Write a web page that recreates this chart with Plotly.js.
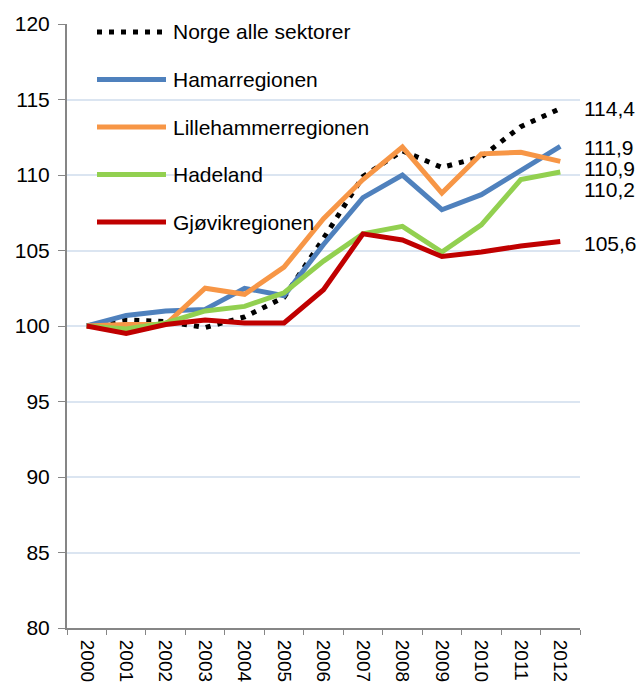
<!DOCTYPE html>
<html>
<head>
<meta charset="utf-8">
<script src="https://cdn.plot.ly/plotly-3.0.1.min.js"></script>
<style>html,body{margin:0;padding:0;background:#fff;}#chart{width:640px;height:686px;}</style>
</head>
<body>
<div id="chart"></div>
<script>
const years = ["2000","2001","2002","2003","2004","2005","2006","2007","2008","2009","2010","2011","2012"];
const seriesNames = ["Norge alle sektorer","Hamarregionen","Lillehammerregionen","Hadeland","Gjøvikregionen"];
const norge     = [100, 100.4, 100.3, 99.9, 100.6, 101.9, 105.8, 109.9, 111.6, 110.5, 111.2, 113.2, 114.4];
const hamar     = [100, 100.7, 101.0, 101.1, 102.5, 102.0, 105.4, 108.5, 110.0, 107.7, 108.7, 110.3, 111.9];
const lilleham  = [100, 100.1, 100.1, 102.5, 102.1, 103.9, 107.1, 109.7, 111.85, 108.8, 111.4, 111.5, 110.9];
const hadeland  = [100, 99.8, 100.2, 101.0, 101.3, 102.2, 104.3, 106.1, 106.6, 104.9, 106.7, 109.7, 110.2];
const gjovik    = [100, 99.5, 100.1, 100.4, 100.2, 100.2, 102.4, 106.1, 105.7, 104.6, 104.9, 105.3, 105.6];
const endLabels = ["114,4","111,9","110,9","110,2","105,6"];
const yTicks = [80,85,90,95,100,105,110,115,120];

const colors = ["#000000","#4f81bd","#f79646","#92d050","#c00000"];
const allSeries = [norge, hamar, lilleham, hadeland, gjovik];
const labelShift = [0, -1, -7, -18, -2];
const FONT = "Liberation Sans, Arial, sans-serif";
const DOT = "5px,7px";

const traces = allSeries.map((vals, i) => ({
  type: "scatter", mode: "lines", x: years, y: vals, name: seriesNames[i],
  line: {color: colors[i], width: 5, dash: i === 0 ? DOT : "solid"},
  hoverinfo: "x+y+name"
}));

const L = 67, R = 580, T = 24, B = 628;
const pw = R - L, ph = B - T;
const shapes = [], annotations = [];
seriesNames.forEach((n, i) => {
  const ypx = 32 + i * 47.5;
  const yp = 1 - (ypx - T) / ph;
  shapes.push({type: "line", xref: "paper", yref: "paper",
    x0: (97 - L) / pw, x1: (166 - L) / pw, y0: yp, y1: yp,
    line: {color: colors[i], width: 5, dash: i === 0 ? DOT : "solid"}});
  annotations.push({xref: "paper", yref: "paper", x: (171 - L) / pw, y: yp,
    xanchor: "left", yanchor: "middle", showarrow: false, text: n,
    font: {family: FONT, size: 21, color: "#000"}});
});
allSeries.forEach((vals, i) => {
  annotations.push({xref: "paper", yref: "y", x: 1, y: vals[vals.length - 1],
    xanchor: "left", yanchor: "middle", xshift: 2, yshift: labelShift[i], showarrow: false,
    text: endLabels[i], font: {family: FONT, size: 21, color: "#000"}});
});

const layout = {
  width: 640, height: 686,
  margin: {l: L, r: 640 - R, t: T, b: 686 - B, pad: 0},
  paper_bgcolor: "#fff", plot_bgcolor: "#fff",
  showlegend: false,
  font: {family: FONT, size: 21, color: "#000"},
  xaxis: {type: "category", tickson: "boundaries", ticks: "outside", ticklen: 5, tickcolor: "#868686",
    showline: true, linecolor: "#868686", linewidth: 2, showgrid: false, tickangle: 90,
    tickfont: {size: 19, color: "#000"}, range: [-0.5, 12.5], zeroline: false, ticklabelstandoff: 6},
  yaxis: {range: [80, 120], tickvals: yTicks, ticktext: yTicks.map(String), ticks: "outside", ticklen: 7,
    tickcolor: "#868686", showline: true, linecolor: "#868686", linewidth: 2,
    gridcolor: "#dbe5f1", gridwidth: 2, zeroline: false, tickfont: {size: 21, color: "#000"},
    ticklabelstandoff: 4},
  shapes: shapes, annotations: annotations
};
Plotly.newPlot("chart", traces, layout, {displayModeBar: false, staticPlot: true});
</script>
</body>
</html>
